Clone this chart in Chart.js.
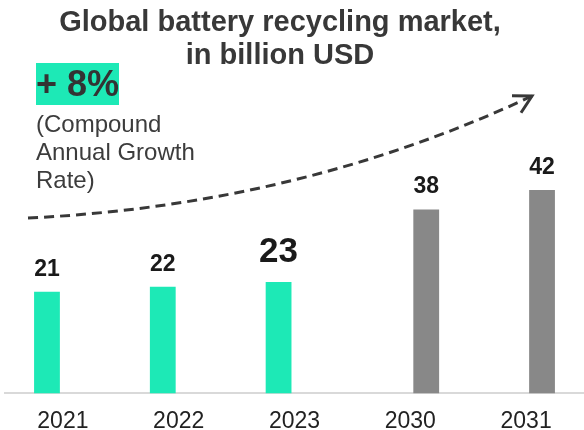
<!DOCTYPE html>
<html>
<head>
<meta charset="utf-8">
<script src="https://cdn.jsdelivr.net/npm/chart.js@4/dist/chart.umd.min.js"></script>
<style>
  html, body { margin: 0; padding: 0; background: #fff; }
  body { width: 584px; height: 430px; position: relative; overflow: hidden;
         font-family: "Liberation Sans", Arial, sans-serif; }
  #chart { position: absolute; left: 0; top: 0; }
  .title { position: absolute; left: 0; top: 5px; width: 560px; text-align: center;
           font-weight: bold; font-size: 29px; line-height: 33.3px; color: #383838; }
  .cagr { position: absolute; left: 36px; top: 63px; height: 42px; line-height: 42px;
          background: #1de9b6; color: #333; font-weight: bold; font-size: 36px;
          white-space: nowrap; }
  .cagr-note { position: absolute; left: 36px; top: 110.4px; font-size: 24px;
               line-height: 28px; color: #3c3c3c; }
</style>
</head>
<body>
<canvas id="chart" width="584" height="430"></canvas>
<div class="title">Global battery recycling market,<br>in billion USD</div>
<div class="cagr">+ 8%</div>
<div class="cagr-note">(Compound<br>Annual Growth<br>Rate)</div>

<script>
// --- DATOS ---
const years = ['2021', '2022', '2023', '2030', '2031'];
const actualValues = [21, 22, 23, null, null];     // histórico
const forecastValues = [null, null, null, 38, 42]; // proyección

const GREEN = '#1de9b6';
const GREY = '#888888';
const FONT = '"Liberation Sans", Arial, sans-serif';

// el último valor histórico se resalta más grande
const highlightIndex = actualValues.findLastIndex(v => v !== null);

// --- ETIQUETAS SOBRE LAS BARRAS ---
const valueLabels = {
    id: 'valueLabels',
    afterDatasetsDraw(chart) {
        const ctx = chart.ctx;
        ctx.save();
        ctx.fillStyle = '#1a1a1a';
        ctx.textAlign = 'center';
        ctx.textBaseline = 'alphabetic';
        chart.data.datasets.forEach((ds, di) => {
            const meta = chart.getDatasetMeta(di);
            meta.data.forEach((bar, i) => {
                const v = ds.data[i];
                if (v === null || v === undefined) return;
                const big = di === 0 && i === highlightIndex;
                ctx.font = 'bold ' + (big ? 35 : 23) + 'px ' + FONT;
                ctx.fillText(String(v), bar.x, bar.y - (big ? 20 : 16));
            });
        });
        ctx.restore();
    }
};

// --- FLECHA DE CRECIMIENTO ---
const growthArrow = {
    id: 'growthArrow',
    afterDraw(chart, args, opts) {
        const ctx = chart.ctx;
        const [x0, y0] = opts.from, [cx, cy] = opts.control, [x1, y1] = opts.to;
        ctx.save();
        ctx.strokeStyle = '#383838';
        ctx.lineWidth = 3;
        ctx.setLineDash([10, 6]);
        ctx.beginPath();
        ctx.moveTo(x0, y0);
        ctx.quadraticCurveTo(cx, cy, x1, y1);
        ctx.stroke();
        ctx.setLineDash([]);
        const back = Math.atan2(cy - y1, cx - x1);
        const len = 20;
        ctx.beginPath();
        ctx.moveTo(x1 + len * Math.cos(back + 0.45), y1 + len * Math.sin(back + 0.45));
        ctx.lineTo(x1, y1);
        ctx.lineTo(x1 + len * Math.cos(back - 0.55), y1 + len * Math.sin(back - 0.55));
        ctx.stroke();
        ctx.restore();
    }
};

Chart.defaults.font.family = FONT;

new Chart(document.getElementById('chart').getContext('2d'), {
    type: 'bar',
    data: {
        labels: years,
        datasets: [
            { label: 'Actual', data: actualValues, backgroundColor: GREEN },
            { label: 'Forecast', data: forecastValues, backgroundColor: GREY }
        ]
    },
    options: {
        responsive: false,
        animation: false,
        devicePixelRatio: 1,
        categoryPercentage: 0.55,
        barPercentage: 0.81,
        layout: { padding: { top: 6, left: 5, right: -3, bottom: -19 } },
        plugins: {
            legend: { display: false },
            tooltip: { enabled: false },
            growthArrow: { from: [28, 218], control: [300, 205], to: [532, 96] }
        },
        scales: {
            x: {
                grid: { display: false, drawTicks: false },
                border: { display: true, color: '#d9d9d9', width: 2 },
                ticks: { color: '#222', font: { size: 23 }, padding: 14 }
            },
            y: { display: false, min: 0, max: 80 }
        }
    },
    plugins: [valueLabels, growthArrow]
});
</script>
</body>
</html>
